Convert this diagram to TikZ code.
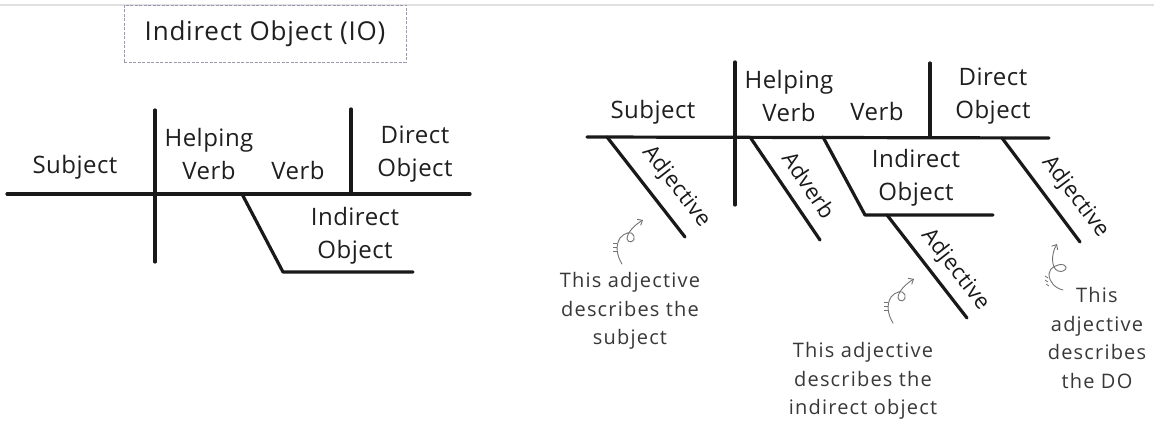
\documentclass[tikz,border=0pt]{standalone}
\usepackage{fontspec}
\setmainfont{Open Sans}
\newfontfamily\widelbl{Open Sans}[LetterSpace=2]
\newfontfamily\widenote{Open Sans}[LetterSpace=6]
\newfontfamily\widetitle{Open Sans}[LetterSpace=3]
\usetikzlibrary{arrows.meta}
\begin{document}
\begin{tikzpicture}[x=1pt,y=-1pt,
  diag/.style={line width=3.2pt, draw=black!90, line cap=round, line join=round},
  lbl/.style={font=\widelbl\fontsize{24}{33}\selectfont, text=black!88, align=center, inner sep=0pt},
  slant/.style={font=\widelbl\fontsize{22}{26}\selectfont, text=black!90, inner sep=0pt},
  note/.style={font=\widenote\fontsize{20}{28.5}\selectfont, text=black!78, align=center, inner sep=0pt},
  curl/.style={draw=black!55, line width=0.9pt, line cap=round, -{Straight Barb[length=4pt,width=7pt]}},
  tick/.style={draw=black!55, line width=0.8pt}
]
\useasboundingbox (0,0) rectangle (1154,425);
\fill[white] (0,0) rectangle (1154,425);
\draw[black!12, line width=1.5pt] (0,5) -- (1154,5);

% title
\node[draw=blue!25!black!40, dash pattern=on 3pt off 1.5pt, line width=0.8pt,
      minimum width=282, minimum height=57, inner sep=0pt,
      font=\widetitle\fontsize{26}{30}\selectfont, text=black!88] (title) at (265,33.5) {Indirect Object (IO)};

% ---------- left diagram ----------
\coordinate (lA) at (7,194);   \coordinate (lB) at (470,194);
\coordinate (lV1t) at (155,110); \coordinate (lV1b) at (155,262);
\coordinate (lV2t) at (351,109); \coordinate (lV2b) at (351,194);
\coordinate (lI1) at (242,194); \coordinate (lI2) at (283,272); \coordinate (lI3) at (413,272);
\draw[diag] (lA) -- (lB);
\draw[diag] (lV1t) -- (lV1b);
\draw[diag] (lV2t) -- (lV2b);
\draw[diag] (lI1) -- (lI2) -- (lI3);

\node[lbl] (lsub) at (75,167) {Subject};
\node[lbl] (lhv) at (209,154) {Helping\\Verb};
\node[lbl] (lverb) at (298,170) {Verb};
\node[lbl] (ldo) at (415,154) {Direct\\Object};
\node[lbl] (lio) at (355,236) {Indirect\\Object};

% ---------- right diagram ----------
\coordinate (rA) at (587,137);  \coordinate (rB) at (1049,138);
\coordinate (rV1t) at (735,62); \coordinate (rV1b) at (735,205);
\coordinate (rV2t) at (930,63); \coordinate (rV2b) at (930,137);
\coordinate (rS1) at (607,137); \coordinate (rS2) at (685,237);
\coordinate (rAv1) at (750,137); \coordinate (rAv2) at (820,240);
\coordinate (rI1) at (823,137); \coordinate (rI2) at (865,215); \coordinate (rI3) at (993,215);
\coordinate (rIA1) at (887,215); \coordinate (rIA2) at (967,318);
\coordinate (rD1) at (1002,138); \coordinate (rD2) at (1080,242);
\draw[diag] (rA) -- (rB);
\draw[diag] (rV1t) -- (rV1b);
\draw[diag] (rV2t) -- (rV2b);
\draw[diag] (rS1) -- (rS2);
\draw[diag] (rAv1) -- (rAv2);
\draw[diag] (rI1) -- (rI2) -- (rI3);
\draw[diag] (rIA1) -- (rIA2);
\draw[diag] (rD1) -- (rD2);

\node[lbl] (rsub) at (653,112) {Subject};
\node[lbl] (rhv) at (789,96) {Helping\\Verb};
\node[lbl] (rverb) at (877,112) {Verb};
\node[lbl] (rdo) at (993,96) {Direct\\Object};
\node[lbl] (rio) at (916,178) {Indirect\\Object};

\node[slant, rotate=-52] (adjS) at (676,187) {Adjective};
\node[slant, rotate=-56] (adv) at (809,185) {Adverb};
\node[slant, rotate=-52] (adjIO) at (955,270) {Adjective};
\node[slant, rotate=-53] (adjDO) at (1075,197) {Adjective};

% notes
\node[note] (n1) at (630,311) {This adjective\\describes the\\subject};
\node[note] (n2) at (863,381) {This adjective\\describes the\\indirect object};
\node[note] (n3) at (1097,338) {This\\adjective\\describes\\the DO};

% curly arrows
\begin{scope}[shift={(622,264)}]
  \draw[curl] (0,0) .. controls (-5,-8) and (-7,-18) .. (-2,-26) .. controls (2,-31) and (10,-34) .. (12,-28) .. controls (14,-22) and (6,-20) .. (5,-25) .. controls (5,-32) and (14,-40) .. (21,-44);
  \draw[tick] (-9,-13) -- (-5,-13) (-9,-17) -- (-5,-17) (-9,-21) -- (-5,-21);
\end{scope}
\begin{scope}[shift={(893,323)}]
  \draw[curl] (0,0) .. controls (-5,-8) and (-7,-18) .. (-2,-26) .. controls (2,-31) and (10,-34) .. (12,-28) .. controls (14,-22) and (6,-20) .. (5,-25) .. controls (5,-32) and (14,-40) .. (21,-44);
  \draw[tick] (-9,-13) -- (-5,-13) (-9,-17) -- (-5,-17) (-9,-21) -- (-5,-21);
\end{scope}
\begin{scope}[shift={(1063,290)}]
  \draw[curl] (0,0) .. controls (-8,-2) and (-14,-8) .. (-14,-16) .. controls (-14,-22) and (-5,-27) .. (1,-25) .. controls (6,-23) and (2,-17) .. (-5,-19) .. controls (-12,-22) and (-12,-36) .. (-6,-46);
  \draw[tick] (-17,-6) -- (-14,-4) (-18,-10) -- (-15,-8) (-18,-14) -- (-15,-12);
\end{scope}
\end{tikzpicture}
\end{document}
